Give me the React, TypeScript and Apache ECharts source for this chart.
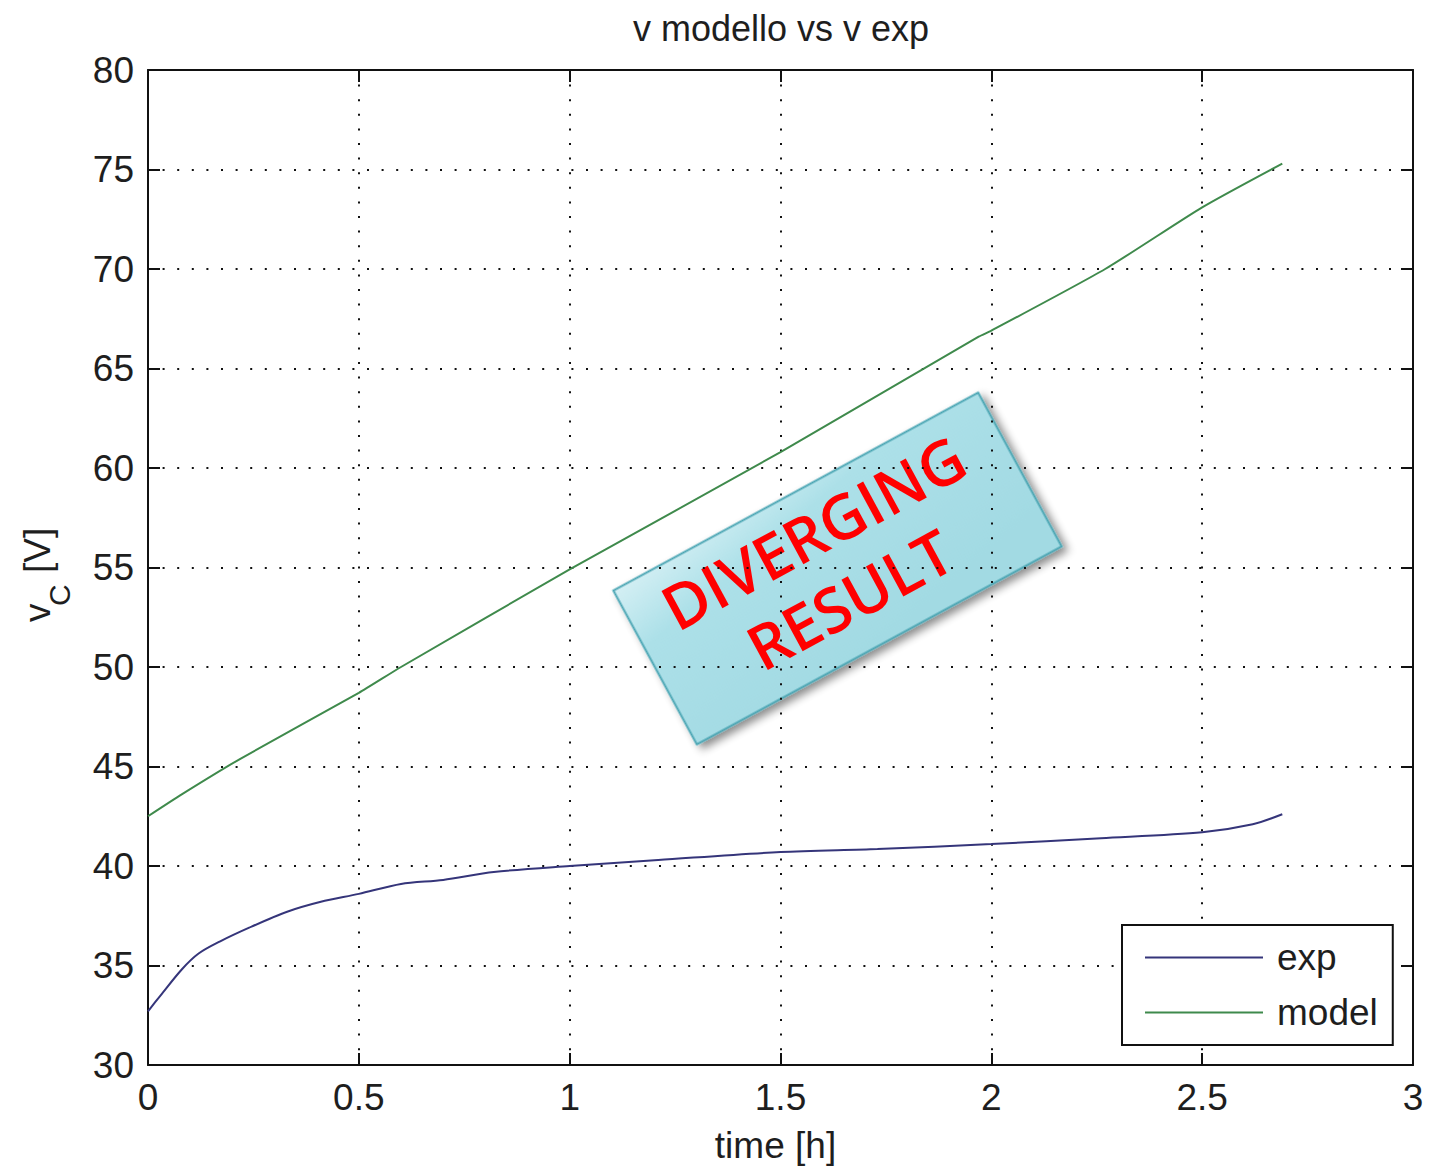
import React, { useEffect, useRef } from "react";
import * as echarts from "echarts";

// ---- data ----
const timeExp = [0, 0.03, 0.08, 0.12, 0.17, 0.24, 0.33, 0.41, 0.5, 0.6, 0.7, 0.82, 1.0, 1.21, 1.5, 1.73, 2.0, 2.26, 2.5, 2.62, 2.69];
const vExp = [32.7, 33.5, 34.8, 35.6, 36.2, 36.9, 37.7, 38.2, 38.6, 39.1, 39.3, 39.7, 40.0, 40.3, 40.7, 40.85, 41.1, 41.4, 41.7, 42.1, 42.6];

const timeModel = [0, 0.08, 0.22, 0.5, 0.6, 1.0, 1.5, 1.97, 2.0, 2.27, 2.5, 2.69];
const vModel = [42.5, 43.6, 45.4, 48.7, 50.0, 54.9, 60.8, 66.6, 66.9, 70.0, 73.1, 75.3];

const xTicks = [0, 0.5, 1, 1.5, 2, 2.5, 3];
const yTicks = [30, 35, 40, 45, 50, 55, 60, 65, 70, 75, 80];

const seriesNames = ["exp", "model"];
const titleText = "v modello vs v exp";
const xName = "time [h]";
const annotationText = "DIVERGING\nRESULT";

const FONT = "'Liberation Sans', Arial, sans-serif";
const TXT = "#1e1e1e";

export default function App() {
  const ref = useRef<HTMLDivElement>(null);

  useEffect(() => {
    if (!ref.current) return;
    const chart = echarts.init(ref.current, undefined, { renderer: "svg" });

    const gridLine = { show: true, lineStyle: { color: "#111", width: 2, type: [2, 12.6] as any } };
    const axisLine = { show: true, onZero: false, lineStyle: { color: "#111", width: 2 } };
    const tick = { show: true, inside: true, length: 12, lineStyle: { color: "#111", width: 2 } };

    const option: any = {
      animation: false,
      backgroundColor: "#fff",
      title: {
        text: titleText,
        left: 776,
        top: 5,
        textAlign: "center",
        textStyle: { fontFamily: FONT, fontSize: 36, fontWeight: "normal", color: TXT },
      },
      grid: { left: 148, top: 70, right: 24, bottom: 107, containLabel: false },
      legend: {
        data: seriesNames,
        orient: "vertical",
        left: 1122,
        top: 925,
        icon: "rect",
        backgroundColor: "#fff",
        borderColor: "#111",
        borderWidth: 2,
        padding: [14, 15, 14, 23],
        itemWidth: 118,
        itemHeight: 2,
        itemGap: 18,
        textStyle: { fontFamily: FONT, fontSize: 37, color: TXT, padding: [0, 0, 0, 9] },
      },
      xAxis: [
        {
          type: "value",
          position: "bottom",
          min: xTicks[0],
          max: xTicks[xTicks.length - 1],
          interval: 0.5,
          axisLine,
          axisTick: tick,
          splitLine: gridLine,
          axisLabel: { fontFamily: FONT, fontSize: 37, color: TXT, margin: 14 },
          name: xName,
          nameLocation: "middle",
          nameGap: 62,
          nameTextStyle: { fontFamily: FONT, fontSize: 37, color: TXT, padding: [0, 10, 0, 0] },
        },
        {
          type: "value",
          position: "top",
          min: xTicks[0],
          max: xTicks[xTicks.length - 1],
          interval: 0.5,
          axisLine,
          axisTick: tick,
          splitLine: { show: false },
          axisLabel: { show: false },
        },
      ],
      yAxis: [
        {
          type: "value",
          position: "left",
          min: yTicks[0],
          max: yTicks[yTicks.length - 1],
          interval: 5,
          axisLine,
          axisTick: tick,
          splitLine: gridLine,
          axisLabel: { fontFamily: FONT, fontSize: 37, color: TXT, margin: 14 },
        },
        {
          type: "value",
          position: "right",
          min: yTicks[0],
          max: yTicks[yTicks.length - 1],
          interval: 5,
          axisLine,
          axisTick: tick,
          splitLine: { show: false },
          axisLabel: { show: false },
        },
      ],
      series: [
        {
          name: seriesNames[0],
          type: "line",
          symbol: "none",
          smooth: 0.3,
          data: timeExp.map((t, i) => [t, vExp[i]]),
          lineStyle: { color: "#35357a", width: 2 },
          itemStyle: { color: "#35357a" },
          z: 3,
        },
        {
          name: seriesNames[1],
          type: "line",
          symbol: "none",
          smooth: 0.2,
          data: timeModel.map((t, i) => [t, vModel[i]]),
          lineStyle: { color: "#3f8a4c", width: 2 },
          itemStyle: { color: "#3f8a4c" },
          z: 3,
        },
      ],
      graphic: [
        {
          type: "group",
          x: 50,
          y: 622,
          rotation: Math.PI / 2,
          children: [
            { type: "text", x: 0, y: -12.8, style: { text: "v", fontFamily: FONT, fontSize: 37, fill: TXT, align: "left", verticalAlign: "middle" } },
            { type: "text", x: 16, y: 9.6, style: { text: "C", fontFamily: FONT, fontSize: 30, fill: TXT, align: "left", verticalAlign: "middle" } },
            { type: "text", x: 49, y: -12.8, style: { text: "[V]", fontFamily: FONT, fontSize: 37, fill: TXT, align: "left", verticalAlign: "middle" } },
          ],
        },
        {
          type: "group",
          x: 837.5,
          y: 568.5,
          rotation: 0.497,
          z: 100,
          children: [
            {
              type: "rect",
              shape: { x: -207.5, y: -87.5, width: 415, height: 175 },
              style: {
                fill: new echarts.graphic.LinearGradient(0, 0, 0.5, 1, [
                  { offset: 0, color: "#d4eff4" },
                  { offset: 0.3, color: "#ace0e8" },
                  { offset: 1, color: "#a2dae3" },
                ]),
                stroke: "#4aa6b4",
                lineWidth: 2,
                shadowBlur: 8,
                shadowOffsetX: 3,
                shadowOffsetY: 6,
                shadowColor: "rgba(0,0,0,0.45)",
              },
            },
            {
              type: "text",
              x: -4,
              y: -6,
              style: {
                text: annotationText,
                fontFamily: "'Open Sans', 'Noto Sans', sans-serif",
                fontWeight: 600,
                fontSize: 62,
                lineHeight: 76,
                fill: "#ff0000",
                align: "center",
                verticalAlign: "middle",
              },
            },
          ],
        },
      ],
    };

    chart.setOption(option);
    return () => chart.dispose();
  }, []);

  return (
    <div
      ref={ref}
      style={{ position: "absolute", left: 0, top: 0, width: 1437, height: 1172 }}
    />
  );
}
